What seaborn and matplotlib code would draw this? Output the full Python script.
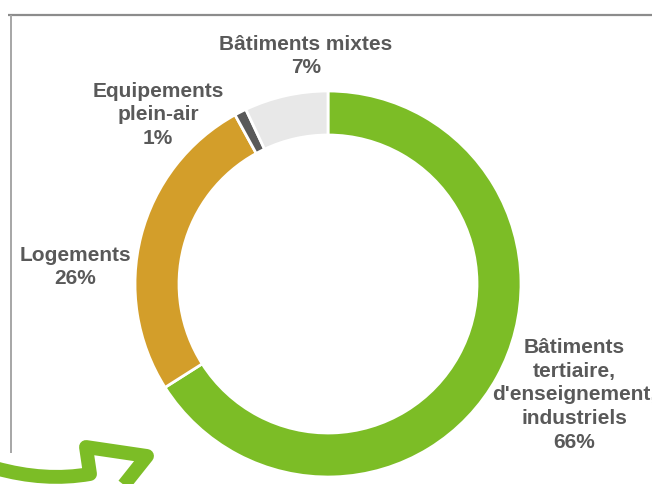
import seaborn as sns
import matplotlib.pyplot as plt
from matplotlib.path import Path
from matplotlib.patches import PathPatch

# --- data ---------------------------------------------------------------
categories = ["Bâtiments\ntertiaire,\nd'enseignement,\nindustriels",
              "Logements",
              "Equipements\nplein-air",
              "Bâtiments mixtes"]
shares = [66, 26, 1, 7]
colors = ["#7CBD26", "#D39E2A", "#595959", "#E8E8E8"]

# label anchor points (pixel coords, y pointing down)
label_pos = [(574, 395), (75, 267), (158, 115), (306, 56)]

sns.set_theme(style="white")
plt.rcParams["font.family"] = ["Liberation Sans", "DejaVu Sans"]

fig = plt.figure(figsize=(6.52, 4.84), dpi=100)
ax = fig.add_axes([0, 0, 1, 1])

# axis runs in pixels, y inverted -> counterclock=True draws clockwise on screen
ax.pie(shares, colors=colors, startangle=-90, counterclock=True,
       center=(328, 284), radius=193,
       wedgeprops=dict(width=44, edgecolor="white", linewidth=2))

for name, val, (x, y) in zip(categories, shares, label_pos):
    ax.text(x, y, f"{name}\n{val}%", ha="center", va="center",
            fontsize=15, fontweight="bold", color="#595959", linespacing=1.32)

# frame lines (top and left)
ax.plot([8, 652], [14.5, 14.5], color="#8C8C8C", lw=1.6, solid_capstyle="butt")
ax.plot([10.5, 10.5], [14.5, 453], color="#A6A6A6", lw=1.4, solid_capstyle="butt")

# decorative green arrow at bottom left
verts = [(-5, 468), (45, 482), (90, 474), (86, 447), (147, 456), (116, 495)]
codes = [Path.MOVETO, Path.CURVE3, Path.CURVE3, Path.LINETO, Path.LINETO, Path.LINETO]
ax.add_patch(PathPatch(Path(verts, codes), facecolor="none", edgecolor="#7CBD26",
                       lw=10, joinstyle="round", capstyle="butt"))

ax.set_xlim(0, 652)
ax.set_ylim(484, 0)
ax.set_aspect("equal")
ax.axis("off")

fig.savefig("out.png", dpi=100)
